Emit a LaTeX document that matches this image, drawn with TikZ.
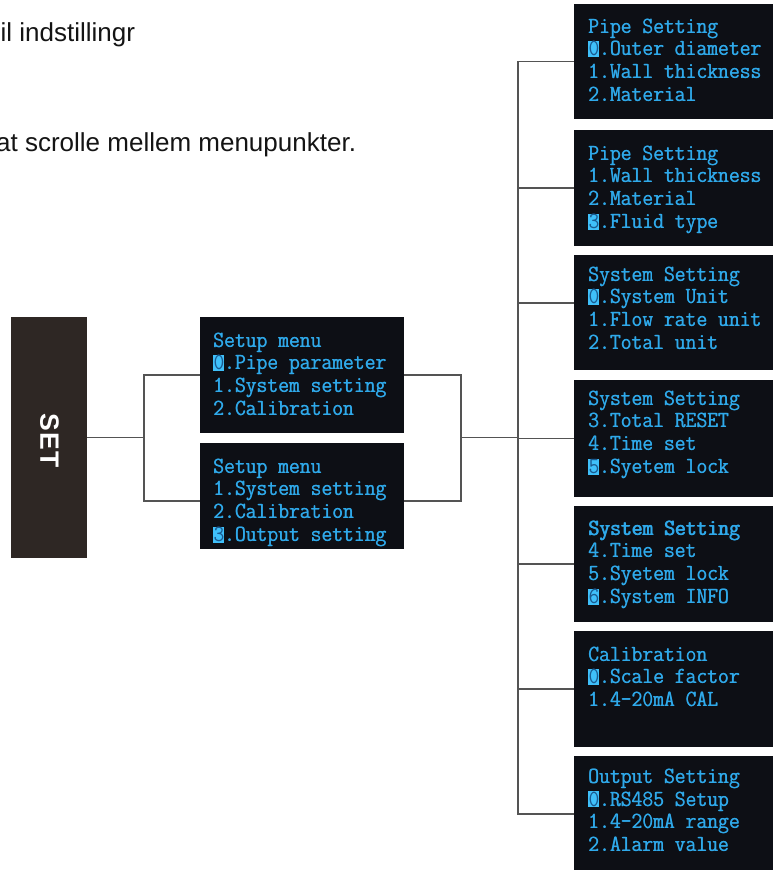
\documentclass[tikz,border=0pt]{standalone}
\usepackage{fontspec}
\setmainfont{Liberation Sans}
\usepackage{graphicx}
\definecolor{scrbg}{HTML}{0D0F15}
\definecolor{scrtx}{HTML}{2FA9EA}
\definecolor{scrhl}{HTML}{3FC0FA}
\definecolor{scrdk}{HTML}{1A5A90}
\definecolor{setbg}{HTML}{2E2724}
\definecolor{connc}{HTML}{545454}
\newcommand\hlg[1]{{\setlength\fboxsep{0pt}\colorbox{scrhl}{\rule[-1pt]{0pt}{14.5pt}\textcolor{scrdk}{#1}}}}
\newcommand\sline[1]{\hbox{\rlap{#1}\kern0.45pt #1}}
\newcommand\bline[1]{\hbox{\rlap{#1}\kern0.45pt\rlap{#1}\kern0.45pt #1}}
\newcommand\scrtext[1]{\scalebox{1}[1.1]{\vtop{\baselineskip=20.9pt\lineskiplimit=-50pt\lineskip=0pt #1}}}
\tikzset{
  scrbox/.style={draw=none, fill=scrbg, inner sep=0pt},
  scrlbl/.style={anchor=base west, inner sep=0pt, text=scrtx, font=\ttfamily\fontsize{21}{21}\selectfont},
  setbox/.style={draw=none, fill=setbg, minimum width=76pt, minimum height=241pt, inner sep=0pt},
  conn/.style={draw=connc, line width=1.3pt},
  note/.style={anchor=base west, inner sep=0pt, text=black!92, font=\fontsize{26}{26}\selectfont}
}
\begin{document}
\begin{tikzpicture}[x=1pt,y=-1pt]
\useasboundingbox[fill=white] (0,0) rectangle (773,870);
% notes
\node[note] (t1) at (0.5,41) {il indstillingr};
\node[note] (t2) at (-4,151) {at scrolle mellem menupunkter.};
% SET
\node[setbox] (set) at (49,437.5) {};
\node[rotate=-90, inner sep=0pt, text=white, font=\bfseries\fontsize{26.5}{26.5}\selectfont] (setlbl) at (49.5,440.5) {S\kern1.5pt E\kern1.5pt T};
% setup menus
\node[scrbox, minimum width=204pt, minimum height=116pt] (m1) at (302,375) {};
\node[scrbox, minimum width=204pt, minimum height=106pt] (m2) at (302,496) {};
\node[scrlbl] (m1t) at (213,347) {\scrtext{\sline{Setup menu}\sline{\hlg{0}.Pipe parameter}\sline{1.System setting}\sline{2.Calibration}}};
\node[scrlbl] (m2t) at (213,473) {\scrtext{\sline{Setup menu}\sline{1.System setting}\sline{2.Calibration}\sline{\hlg{3}.Output setting}}};
% right column
\node[scrbox, minimum width=199pt, minimum height=115pt] (r1) at (673.5,61.5) {};
\node[scrbox, minimum width=199pt, minimum height=116pt] (r2) at (673.5,188) {};
\node[scrbox, minimum width=199pt, minimum height=115pt] (r3) at (673.5,312.5) {};
\node[scrbox, minimum width=199pt, minimum height=117pt] (r4) at (673.5,438.5) {};
\node[scrbox, minimum width=199pt, minimum height=116pt] (r5) at (673.5,564) {};
\node[scrbox, minimum width=199pt, minimum height=116pt] (r6) at (673.5,689) {};
\node[scrbox, minimum width=199pt, minimum height=116pt] (r7) at (673.5,814) {};
\node[scrlbl] (r1t) at (588,33) {\scrtext{\sline{Pipe Setting}\sline{\hlg{0}.Outer diameter}\sline{1.Wall thickness}\sline{2.Material}}};
\node[scrlbl] (r2t) at (588,160) {\scrtext{\sline{Pipe Setting}\sline{1.Wall thickness}\sline{2.Material}\sline{\hlg{3}.Fluid type}}};
\node[scrlbl] (r3t) at (588,281) {\scrtext{\sline{System Setting}\sline{\hlg{0}.System Unit}\sline{1.Flow rate unit}\sline{2.Total unit}}};
\node[scrlbl] (r4t) at (588,405) {\scrtext{\sline{System Setting}\sline{3.Total RESET}\sline{4.Time set}\sline{\hlg{5}.Syetem lock}}};
\node[scrlbl] (r5t) at (588,535) {\scrtext{\bline{System Setting}\sline{4.Time set}\sline{5.Syetem lock}\sline{\hlg{6}.System INFO}}};
\node[scrlbl] (r6t) at (588,661) {\scrtext{\sline{Calibration}\sline{\hlg{0}.Scale factor}\sline{1.4-20mA CAL}}};
\node[scrlbl] (r7t) at (588,783) {\scrtext{\sline{Output Setting}\sline{\hlg{0}.RS485 Setup}\sline{1.4-20mA range}\sline{2.Alarm value}}};
% connectors
\coordinate (j1) at (144,437.5);
\coordinate (j2) at (461,437.5);
\coordinate (j3) at (518,437.5);
\draw[conn] (set.east) -- (j1);
\draw[conn] (m1.west) -| (j1) |- (m2.west |- 0,501);
\draw[conn] (m1.east) -| (j2) |- (m2.east |- 0,501);
\draw[conn] (j2) -- (j3);
\draw[conn] (r1.west) -| (j3) |- (r7.west);
\draw[conn] (j3 |- r2.west) -- (r2.west);
\draw[conn] (j3 |- 0,303) -- (r3.west |- 0,303);
\draw[conn] (j3 |- r4.west) -- (r4.west);
\draw[conn] (j3 |- r5.west) -- (r5.west);
\draw[conn] (j3 |- r6.west) -- (r6.west);
\end{tikzpicture}
\end{document}
